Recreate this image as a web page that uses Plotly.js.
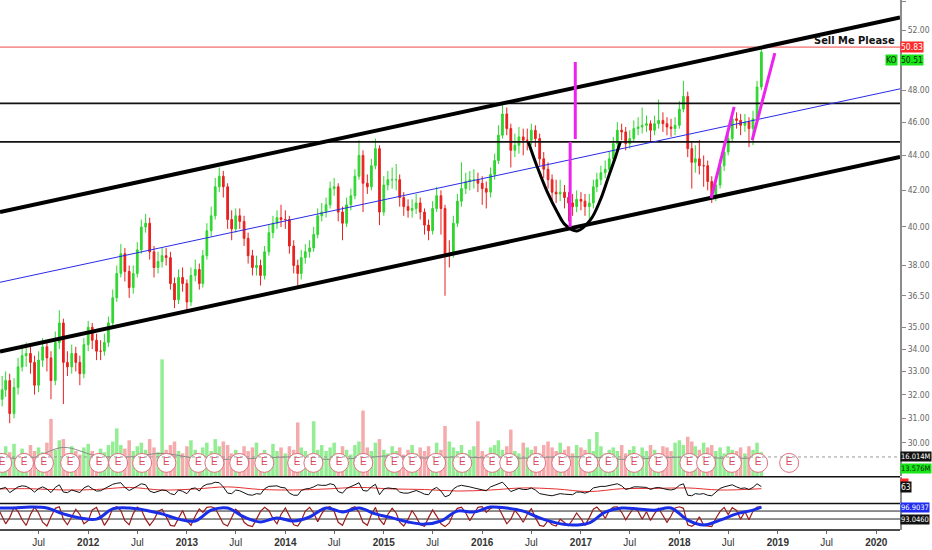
<!DOCTYPE html>
<html><head><meta charset="utf-8">
<script src="https://cdn.plot.ly/plotly-3.0.1.min.js"></script>
<style>html,body{margin:0;padding:0;background:#fff}#chart{width:932px;height:550px}</style>
</head><body><div id="chart"></div>
<script>
// ---------- price data (semi-monthly bars) ----------
const dates = [
"2011-02-01","2011-02-16","2011-03-01","2011-03-16","2011-04-01","2011-04-16","2011-05-01","2011-05-16","2011-06-01","2011-06-16","2011-07-01","2011-07-16","2011-08-01","2011-08-16","2011-09-01","2011-09-16","2011-10-01","2011-10-16","2011-11-01","2011-11-16","2011-12-01","2011-12-16",
"2012-01-01","2012-01-16","2012-02-01","2012-02-16","2012-03-01","2012-03-16","2012-04-01","2012-04-16","2012-05-01","2012-05-16","2012-06-01","2012-06-16","2012-07-01","2012-07-16","2012-08-01","2012-08-16","2012-09-01","2012-09-16","2012-10-01","2012-10-16","2012-11-01","2012-11-16","2012-12-01","2012-12-16",
"2013-01-01","2013-01-16","2013-02-01","2013-02-16","2013-03-01","2013-03-16","2013-04-01","2013-04-16","2013-05-01","2013-05-16","2013-06-01","2013-06-16","2013-07-01","2013-07-16","2013-08-01","2013-08-16","2013-09-01","2013-09-16","2013-10-01","2013-10-16","2013-11-01","2013-11-16","2013-12-01","2013-12-16",
"2014-01-01","2014-01-16","2014-02-01","2014-02-16","2014-03-01","2014-03-16","2014-04-01","2014-04-16","2014-05-01","2014-05-16","2014-06-01","2014-06-16","2014-07-01","2014-07-16","2014-08-01","2014-08-16","2014-09-01","2014-09-16","2014-10-01","2014-10-16","2014-11-01","2014-11-16","2014-12-01","2014-12-16",
"2015-01-01","2015-01-16","2015-02-01","2015-02-16","2015-03-01","2015-03-16","2015-04-01","2015-04-16","2015-05-01","2015-05-16","2015-06-01","2015-06-16","2015-07-01","2015-07-16","2015-08-01","2015-08-16","2015-09-01","2015-09-16","2015-10-01","2015-10-16","2015-11-01","2015-11-16","2015-12-01","2015-12-16",
"2016-01-01","2016-01-16","2016-02-01","2016-02-16","2016-03-01","2016-03-16","2016-04-01","2016-04-16","2016-05-01","2016-05-16","2016-06-01","2016-06-16","2016-07-01","2016-07-16","2016-08-01","2016-08-16","2016-09-01","2016-09-16","2016-10-01","2016-10-16","2016-11-01","2016-11-16","2016-12-01","2016-12-16",
"2017-01-01","2017-01-16","2017-02-01","2017-02-16","2017-03-01","2017-03-16","2017-04-01","2017-04-16","2017-05-01","2017-05-16","2017-06-01","2017-06-16","2017-07-01","2017-07-16","2017-08-01","2017-08-16","2017-09-01","2017-09-16","2017-10-01","2017-10-16","2017-11-01","2017-11-16","2017-12-01","2017-12-16",
"2018-01-01","2018-01-16","2018-02-01","2018-02-16","2018-03-01","2018-03-16","2018-04-01","2018-04-16","2018-05-01","2018-05-16","2018-06-01","2018-06-16","2018-07-01","2018-07-16","2018-08-01","2018-08-16","2018-09-01","2018-09-16","2018-10-01","2018-10-16","2018-11-01"];

const openP = [31.5,31.8,32.2,32.6,31.2,32.3,33.2,33.7,33.8,33.4,
32.4,33.5,34.1,33.6,32.6,34.3,35.2,33.4,33.2,33.8,
33.4,32.9,34.2,35.0,34.4,33.9,33.9,34.3,35.2,36.4,
37.6,38.6,37.7,36.9,37.6,38.8,40.0,40.2,38.7,37.9,
38.2,38.5,38.4,37.1,36.3,37.4,37.1,36.2,37.5,37.8,
37.1,38.5,39.8,40.6,42.2,42.8,42.2,40.4,39.9,40.6,
40.3,39.4,38.5,37.9,38.0,37.5,38.7,39.7,40.2,40.5,
40.4,40.4,39.0,38.0,37.6,38.4,38.7,38.9,39.6,40.6,
40.8,41.2,42.1,42.2,40.8,40.2,41.2,41.7,42.8,44.0,
42.4,42.2,43.4,44.4,40.8,42.3,42.6,42.6,42.6,41.6,
41.1,40.9,41.0,41.3,40.8,40.1,39.8,41.0,41.7,41.0,
38.6,38.6,40.2,41.4,42.1,42.5,42.6,42.6,42.4,42.1,
41.9,42.9,43.7,45.2,46.5,45.6,44.3,44.6,45.1,44.9,
44.9,45.5,45.0,43.8,43.2,42.6,41.9,41.8,41.9,41.6,
41.3,41.1,41.5,41.4,41.1,41.3,42.2,42.6,43.0,43.2,
43.8,44.7,45.5,45.4,44.7,45.0,45.6,45.7,45.8,45.9,
45.5,45.9,46.1,45.9,45.7,45.6,45.8,46.8,47.6,44.4,
43.6,43.8,43.4,43.4,42.5,41.7,42.3,43.4,44.2,45.0,
46.2,46.1,45.8,46.0,45.6,46.2,48.2];

const highP = [32.3,32.8,33.0,32.9,32.7,33.6,34.2,34.3,34.1,33.7,
33.9,34.5,34.4,33.9,34.8,35.8,35.4,33.9,34.2,34.1,
33.7,34.5,35.3,35.2,34.7,34.4,34.7,35.5,36.8,38.0,
39.1,38.9,38.0,38.0,39.2,40.4,40.7,40.5,39.0,38.7,
38.9,38.9,38.7,37.4,37.8,37.9,37.3,37.9,38.3,38.1,
38.8,40.2,41.1,42.7,43.3,43.1,42.4,40.9,41.0,41.0,
40.6,39.7,38.8,38.5,38.3,39.0,40.1,40.6,40.9,41.2,
40.9,40.6,39.3,38.3,38.8,39.1,39.3,40.0,41.0,41.3,
41.6,42.5,42.7,42.4,41.1,41.6,42.1,43.2,44.9,44.3,
42.9,43.8,45.0,44.6,42.8,43.1,43.3,43.5,42.9,41.9,
41.5,41.5,41.8,41.6,41.0,40.4,41.4,42.2,42.0,41.2,
39.3,40.6,41.8,43.6,43.0,43.1,43.2,43.0,42.8,42.5,
43.3,44.1,45.8,47.1,46.9,45.9,45.3,45.7,45.6,45.6,
45.9,45.8,45.3,44.2,43.6,42.9,42.6,42.6,42.3,41.9,
41.8,42.0,41.9,41.8,41.8,42.6,43.0,43.4,43.7,44.2,
45.1,46.0,45.9,45.7,45.5,46.1,46.3,46.9,46.4,46.1,
46.4,47.4,46.6,46.3,46.2,46.3,47.3,48.6,47.9,44.8,
44.6,44.9,44.0,43.7,42.8,42.7,43.8,44.6,45.4,46.6,
46.6,46.5,46.5,46.3,46.7,48.6,50.8];

const lowP = [31.0,31.5,31.9,30.8,31.0,32.0,33.0,33.2,32.9,32.0,
32.1,33.2,33.0,31.8,32.4,34.0,31.6,32.8,32.9,33.0,
32.4,32.7,33.9,34.0,33.5,33.5,33.7,34.1,35.0,36.2,
37.4,37.2,36.4,36.6,37.4,38.6,39.7,38.3,37.4,37.6,
37.9,38.0,36.8,35.9,36.1,36.7,35.7,36.0,37.2,36.8,
36.9,38.3,39.5,40.4,41.9,41.6,39.9,39.3,39.7,39.9,
39.0,38.1,37.5,37.5,37.0,37.3,38.5,39.4,39.9,40.0,
39.9,38.6,37.6,37.0,37.3,38.1,38.4,38.7,39.4,40.3,
40.5,41.0,41.7,40.3,39.3,40.0,40.9,41.5,42.6,40.8,
41.8,42.0,43.2,40.1,40.6,42.0,42.1,42.0,41.1,40.6,
40.5,40.5,40.7,40.4,39.6,39.3,39.6,40.8,39.6,36.5,
37.9,38.4,40.0,41.1,41.8,42.0,42.1,41.9,41.2,41.0,
41.6,42.6,43.5,45.0,45.2,43.3,43.9,44.1,44.0,44.3,
44.6,44.5,43.4,42.7,42.1,41.4,41.3,41.4,41.0,40.3,
40.6,40.8,40.9,40.6,40.4,41.0,41.9,42.3,42.7,42.9,
43.5,44.5,44.9,44.3,44.4,44.8,45.2,45.3,45.4,44.8,
45.2,45.6,45.4,45.2,45.1,45.2,45.6,46.6,43.9,42.1,
43.0,42.9,42.2,42.0,41.3,41.4,42.1,43.1,44.0,44.8,
45.6,45.2,45.4,44.5,44.6,46.0,48.0];

const closeP = [31.8,32.2,32.6,31.2,32.3,33.2,33.7,33.8,33.4,32.4,
33.5,34.1,33.6,32.6,34.3,35.2,33.4,33.2,33.8,33.4,
32.9,34.2,35.0,34.4,33.9,33.9,34.3,35.2,36.4,37.6,
38.6,37.7,36.9,37.6,38.8,40.0,40.2,38.7,37.9,38.2,
38.5,38.4,37.1,36.3,37.4,37.1,36.2,37.5,37.8,37.1,
38.5,39.8,40.6,42.2,42.8,42.2,40.4,39.9,40.6,40.3,
39.4,38.5,37.9,38.0,37.5,38.7,39.7,40.2,40.5,40.4,
40.4,39.0,38.0,37.6,38.4,38.7,38.9,39.6,40.6,40.8,
41.2,42.1,42.2,40.8,40.2,41.2,41.7,42.8,44.0,42.4,
42.2,43.4,44.4,40.8,42.3,42.6,42.6,42.6,41.6,41.1,
40.9,41.0,41.3,40.8,40.1,39.8,41.0,41.7,41.0,38.6,
38.6,40.2,41.4,42.1,42.5,42.6,42.6,42.4,42.1,41.9,
42.9,43.7,45.2,46.5,45.6,44.3,44.6,45.1,44.9,44.9,
45.5,45.0,43.8,43.2,42.6,41.9,41.8,41.9,41.6,41.3,
41.1,41.5,41.4,41.1,41.3,42.2,42.6,43.0,43.2,43.8,
44.7,45.5,45.4,44.7,45.0,45.6,45.7,45.8,45.9,45.5,
45.9,46.1,45.9,45.7,45.6,45.8,46.8,47.6,44.4,43.6,
43.8,43.4,43.4,42.5,41.7,42.3,43.4,44.2,45.0,46.2,
46.1,45.8,46.0,45.6,46.2,48.2,50.5];

// volume, millions
const volume = [22,18,25,20,27,17,23,19,26,21,
24,20,28,48,22,30,31,19,25,21,
18,24,27,21,17,23,20,26,29,40,
26,23,30,21,25,28,22,31,24,20,
98,22,26,29,21,19,25,30,22,18,
24,28,21,31,25,29,26,19,22,18,
25,21,24,28,19,22,18,27,21,24,
19,25,22,45,24,21,18,46,22,26,
21,24,28,19,25,22,18,26,29,55,
24,21,28,31,22,19,25,21,24,18,
22,26,19,24,21,25,18,28,22,42,
29,24,21,26,19,22,25,46,21,18,
24,26,30,22,25,39,21,19,28,24,
22,25,19,26,29,24,21,28,22,25,
19,26,24,22,31,21,37,25,19,22,
24,21,26,19,22,25,18,24,21,26,
22,19,25,24,21,28,30,26,33,29,
25,22,28,24,26,21,24,19,25,22,
21,24,19,25,22,28,20];

// every 4 months
const coarseDates = ["2011-02-01","2011-06-01","2011-10-01","2012-02-01","2012-06-01","2012-10-01","2013-02-01","2013-06-01","2013-10-01","2014-02-01","2014-06-01","2014-10-01","2015-02-01","2015-06-01","2015-10-01","2016-02-01","2016-06-01","2016-10-01","2017-02-01","2017-06-01","2017-10-01","2018-02-01","2018-06-01","2018-11-01"];
const volumeMA = [16,15,24,17,16,19,15,14,15,16,14,15,17,15,16,15,15,16,16,14,15,16,15,15];

// RSI panel
const rsi = [52,56,60,40,52,62,66,64,55,42,
55,62,54,40,60,70,42,40,50,46,
40,58,66,55,46,47,54,63,72,76,
78,60,48,56,66,74,70,46,40,45,
50,48,36,32,50,45,36,55,58,46,
64,72,74,80,78,62,38,36,50,47,
38,32,30,36,34,55,64,66,66,60,
58,38,30,30,48,54,56,62,70,68,
68,74,70,44,38,56,62,70,78,48,
46,62,72,32,54,58,56,55,42,38,
38,42,48,42,34,32,52,60,46,24,
30,54,64,68,66,62,58,54,50,47,
62,68,76,80,62,44,50,56,52,52,
58,50,36,32,30,28,32,36,34,32,
32,42,42,38,44,58,62,64,64,68,
72,74,66,52,56,62,62,60,60,52,
58,60,55,52,50,54,68,74,30,28,
36,34,36,30,28,42,56,62,66,70,
62,56,58,52,60,74,63];
const rsiMA = [54,55,50,52,60,50,54,62,52,50,54,60,54,52,46,50,58,54,44,55,56,58,50,55];

// oscillator panel
const oscFast = [96.5,94.0,91.5,93.5,96.8,95.5,92.8,91.0,94.5,96.9,
95.0,92.0,90.8,93.8,96.5,97.0,93.0,91.2,94.0,96.2,
94.5,91.5,92.5,96.0,96.8,93.5,91.0,93.0,96.5,97.0,
95.8,92.5,91.2,94.8,96.9,96.0,93.0,91.0,92.8,95.5,
96.2,93.8,91.0,90.8,93.5,95.8,92.5,91.0,94.0,96.3,
95.2,96.8,97.0,96.5,94.0,91.5,90.8,93.5,96.2,95.0,
92.0,91.0,90.6,93.0,95.5,96.8,95.8,93.2,91.5,94.5,
96.6,94.0,91.2,90.8,92.5,95.6,96.8,95.0,92.2,94.8,
96.7,97.0,95.5,92.0,91.0,94.0,96.5,97.0,95.2,92.0,
91.0,94.5,96.8,93.0,91.2,94.5,96.5,95.0,92.0,90.8,
93.0,95.8,93.8,91.2,90.7,93.5,96.0,94.0,91.5,90.6,
91.8,94.8,96.5,96.9,95.0,92.5,94.5,96.8,97.0,95.2,
96.5,97.0,96.8,94.2,91.5,93.0,95.8,94.2,92.0,94.6,
96.4,93.5,91.0,90.7,92.5,91.2,90.8,93.0,92.0,90.9,
92.8,95.0,93.2,91.0,93.5,96.2,96.9,95.5,93.2,95.8,
96.9,97.0,95.2,92.8,94.8,96.7,95.5,93.0,95.4,92.6,
94.8,96.5,94.2,92.0,94.0,96.6,97.0,96.5,91.2,90.7,
91.5,93.8,91.0,90.8,90.6,93.2,95.5,96.8,94.5,96.7,
95.8,93.0,95.5,92.8,95.6,96.9,97.0];
const slowDates = ["2011-02-01","2011-04-01","2011-06-01","2011-08-01","2011-10-01","2011-12-01","2012-02-01","2012-04-01","2012-06-01","2012-08-01","2012-10-01","2012-12-01","2013-02-01","2013-04-01","2013-06-01","2013-08-01","2013-10-01","2013-12-01","2014-02-01","2014-04-01","2014-06-01","2014-08-01","2014-10-01","2014-12-01","2015-02-01","2015-04-01","2015-06-01","2015-08-01","2015-10-01","2015-12-01","2016-02-01","2016-04-01","2016-06-01","2016-08-01","2016-10-01","2016-12-01","2017-02-01","2017-04-01","2017-06-01","2017-08-01","2017-10-01","2017-12-01","2018-02-01","2018-04-01","2018-06-01","2018-08-01","2018-10-01","2018-11-01"];
const oscSlow = [96.6,96.6,96.9,96.6,94.7,93.4,93.0,96.3,96.6,95.9,94.7,93.0,92.4,95.9,96.6,93.7,92.1,93.4,92.4,93.7,96.6,95.3,96.6,94.7,93.4,92.1,91.4,92.4,95.6,95.3,96.9,96.6,95.6,93.4,91.8,91.1,91.8,95.3,96.6,96.3,95.9,96.6,92.7,91.1,92.7,94.7,95.9,96.9];
const oscLevels = [95.62, 93.046];

// earnings markers
const earningsDates = ["2011-02-16","2011-05-08","2011-07-21","2011-10-26","2012-02-10","2012-04-21","2012-07-19","2012-10-17","2013-02-12","2013-04-13","2013-07-14","2013-10-15","2014-02-14","2014-04-15","2014-07-19","2014-10-17","2015-02-09","2015-04-16","2015-07-14","2015-10-19","2016-02-07","2016-04-10","2016-07-19","2016-10-20","2017-01-29","2017-04-13","2017-07-17","2017-10-15","2018-02-07","2018-04-10","2018-07-15","2018-10-20","2019-02-12"];
const earningsLevel = 11;

// drawings
const fullSpan = ["2011-02-08","2020-03-29"];
const upperChannel = [40.81, 52.87];
const lowerChannel = [33.88, 43.91];
const midTrend = [37.16, 48.08];
const resistance1 = 47.16, resistance2 = 44.80, alertLevel = 50.83, lastPrice = 50.51;
const cupDates = ["2016-06-20","2016-07-23","2016-08-29","2016-10-05","2016-11-04","2016-12-18","2017-02-05","2017-03-14","2017-04-13","2017-05-09","2017-05-27"];
const cupPrices = [44.80,43.33,41.91,40.81,40.11,39.79,40.38,41.47,42.76,43.91,44.80];
const mag1Dates = ["2016-12-11","2016-12-11"], mag1Prices = [49.83, 44.97];
const mag2Dates = ["2016-11-22","2016-11-22"], mag2Prices = [44.80, 40.00];
const mag3Dates = ["2018-04-29","2018-07-23"], mag3Prices = [41.57, 46.94];
const mag4Dates = ["2018-09-28","2018-12-21"], mag4Prices = [44.91, 50.43];
const noteText = "Sell Me Please", notePrice = 51.31;

const priceTicks = [30,31,32,33,34,35,36.5,38,40,42,44,46,48,52,54];
const xTickDates = ["2011-07-01","2012-01-01","2012-07-01","2013-01-01","2013-07-01","2014-01-01","2014-07-01","2015-01-01","2015-07-01","2016-01-01","2016-07-01","2017-01-01","2017-07-01","2018-01-01","2018-07-01","2019-01-01","2019-07-01","2020-01-01"];
const xTickText = ["Jul","<b>2012</b>","Jul","<b>2013</b>","Jul","<b>2014</b>","Jul","<b>2015</b>","Jul","<b>2016</b>","Jul","<b>2017</b>","Jul","<b>2018</b>","Jul","<b>2019</b>","Jul","<b>2020</b>"];

const volLast = 13.576, volAvgLabel = 16.014, rsiLast = 63, oscSlowLast = 96.9037, oscLow = 93.0460, oscFastLabel = 94.7214;

// ---------- traces ----------
const GREEN = '#2fd62f', RED = '#e8211f';
const volColors = closeP.map((c,i)=> c>=openP[i] ? 'rgba(120,232,120,0.8)' : 'rgba(242,150,150,0.8)');
const traces = [];
traces.push({type:'bar', x:dates, y:volume, xaxis:'x', yaxis:'y4', marker:{color:volColors, line:{width:0}}, width:13*86400000, hoverinfo:'skip'});
traces.push({type:'scatter', mode:'lines', x:coarseDates, y:volumeMA, xaxis:'x', yaxis:'y4', line:{color:'#8a8a8a', width:1, shape:'spline'}});
traces.push({type:'scatter', mode:'markers+text', x:earningsDates, y:earningsDates.map(()=>earningsLevel), xaxis:'x', yaxis:'y4',
  text:earningsDates.map(()=>'E'), textposition:'middle center', textfont:{color:'#d9465e', size:10, family:'Liberation Sans'},
  marker:{symbol:'circle', size:19, color:'#ffffff', line:{color:'#e07080', width:1}}});

const line = (x,y,color,width,extra)=>Object.assign({type:'scatter', mode:'lines', x:x, y:y, xaxis:'x', yaxis:'y', line:{color:color, width:width}, hoverinfo:'skip'}, extra||{});
traces.push(line(fullSpan,[alertLevel,alertLevel],'#f04848',1));
traces.push(line(fullSpan,[resistance1,resistance1],'#111',1.6));
traces.push(line(fullSpan,[resistance2,resistance2],'#111',1.6));
traces.push(line(fullSpan,midTrend,'#2a2ae8',1));

traces.push({type:'candlestick', x:dates, open:openP, high:highP, low:lowP, close:closeP, xaxis:'x', yaxis:'y',
  increasing:{line:{color:GREEN, width:1}, fillcolor:GREEN}, decreasing:{line:{color:RED, width:1}, fillcolor:RED}, whiskerwidth:0, hoverinfo:'skip'});

traces.push(line(fullSpan,upperChannel,'#000',4));
traces.push(line(fullSpan,lowerChannel,'#000',4));
traces.push(line(cupDates,cupPrices,'#000',3,{line:{color:'#000', width:3, shape:'spline', smoothing:1}}));
traces.push(line(mag1Dates,mag1Prices,'#ee22ee',3));
traces.push(line(mag2Dates,mag2Prices,'#ee22ee',3));
traces.push(line(mag3Dates,mag3Prices,'#ee22ee',3));
traces.push(line(mag4Dates,mag4Prices,'#ee22ee',3));

traces.push({type:'scatter', mode:'lines', x:coarseDates, y:rsiMA, xaxis:'x', yaxis:'y2', line:{color:'#e53030', width:1, shape:'spline'}});
traces.push({type:'scatter', mode:'lines', x:dates, y:rsi, xaxis:'x', yaxis:'y2', line:{color:'#111', width:1}});

traces.push({type:'scatter', mode:'lines', x:fullSpan, y:[oscLevels[0],oscLevels[0]], xaxis:'x', yaxis:'y3', line:{color:'#222', width:1}});
traces.push({type:'scatter', mode:'lines', x:fullSpan, y:[oscLevels[1],oscLevels[1]], xaxis:'x', yaxis:'y3', line:{color:'#222', width:1}});
traces.push({type:'scatter', mode:'lines', x:dates, y:oscFast, xaxis:'x', yaxis:'y3', line:{color:'#9b1c1c', width:1.2}});
traces.push({type:'scatter', mode:'lines', x:slowDates, y:oscSlow, xaxis:'x', yaxis:'y3', line:{color:'#1a2ee6', width:3, shape:'spline'}});

// ---------- layout ----------
const FONT = 'Liberation Sans Narrow, DejaVu Sans Condensed, Liberation Sans, sans-serif';
const axisCommon = {side:'right', anchor:'x', showgrid:false, zeroline:false, showline:true, linecolor:'#8c8c8c', linewidth:2, fixedrange:true};
const L10 = Math.log10;
const tag = (yref, y, text, bg, fg, opts)=>Object.assign({xref:'paper', x:1, xanchor:'left', yref:yref, y:y, text:text, showarrow:false,
  bgcolor:bg, font:{color:fg, size:8, family:FONT}, borderpad:0, xshift:0}, opts||{});

const layout = {
  width:932, height:550, margin:{l:0, r:32, t:0, b:20},
  paper_bgcolor:'#fff', plot_bgcolor:'#fff', showlegend:false, hovermode:false,
  font:{family:FONT, size:9, color:'#444'},
  xaxis:{type:'date', range:fullSpan, anchor:'y3', showgrid:false, zeroline:false, showline:false,
    tickvals:xTickDates, ticktext:xTickText, ticks:'outside', ticklen:3, tickcolor:'#666',
    tickfont:{size:10, color:'#333', family:'Liberation Sans, sans-serif'}, rangeslider:{visible:false}, fixedrange:true},
  yaxis:Object.assign({}, axisCommon, {domain:[0.1019,1], type:'log', range:[L10(28.71), L10(54.12)],
    tickvals:priceTicks, ticktext:priceTicks.map(v=>v.toFixed(2)), ticks:'outside', ticklen:4, tickcolor:'#888',
    tickfont:{size:8.5, color:'#666', family:FONT}}),
  yaxis2:Object.assign({}, axisCommon, {domain:[0.0509,0.1000], range:[0,100], showticklabels:false}),
  yaxis3:Object.assign({}, axisCommon, {domain:[0,0.0491], range:[89.5,97.9], showticklabels:false}),
  yaxis4:{overlaying:'y', side:'right', range:[0,400], visible:false, fixedrange:true},
  shapes:[
    {type:'line', xref:'paper', yref:'y2 domain', x0:0, x1:1, y0:1.01, y1:1.01, line:{color:'#111', width:1.5}},
    {type:'line', xref:'paper', yref:'y3 domain', x0:0, x1:1, y0:1.02, y1:1.02, line:{color:'#111', width:1.5}},
    {type:'line', xref:'paper', yref:'y3 domain', x0:0, x1:1, y0:0, y1:0, line:{color:'#111', width:1.5}},
    {type:'line', xref:'paper', yref:'y4', x0:0, x1:1.035, y0:volAvgLabel, y1:volAvgLabel, line:{color:'#9a9a9a', width:1, dash:'dot'}}
  ],
  annotations:[
    {xref:'paper', x:0.9967, xanchor:'right', yref:'y', y:L10(notePrice), text:'<b>'+noteText+'</b>', showarrow:false,
      font:{size:11, color:'#111', family:FONT}},
    tag('y', L10(alertLevel), alertLevel.toFixed(2), '#ff2a2a', '#ffffff', {font:{color:'#fff', size:8.5, family:FONT}}),
    tag('y', L10(lastPrice), lastPrice.toFixed(2), '#19e619', '#0a2a0a', {yshift:-8, font:{color:'#0a2a0a', size:8.5, family:FONT}}),
    tag('y', L10(lastPrice), 'KO', '#19e619', '#0a2a0a', {xanchor:'right', xshift:-2, yshift:-8, font:{color:'#0a2a0a', size:8.5, family:FONT}}),
    tag('y4', volAvgLabel, volAvgLabel.toFixed(3)+'M', '#111111', '#ffffff', {font:{color:'#fff', size:7.5, family:FONT}}),
    tag('y4', volLast, volLast.toFixed(3)+'M', '#19e619', '#0a2a0a', {yshift:-9, font:{color:'#0a2a0a', size:7.5, family:FONT}}),
    tag('y2', 100, '&nbsp;&nbsp;&nbsp;&nbsp;&nbsp;&nbsp;&nbsp;&nbsp;', '#ff2a2a', '#ff2a2a', {yanchor:'top', yshift:-1, font:{size:3, color:'#ff2a2a'}}),
    tag('y2', rsiLast, String(rsiLast), '#111111', '#ffffff', {font:{color:'#fff', size:8.5, family:FONT}}),
    tag('y3', oscSlowLast, oscSlowLast.toFixed(4), '#1f2cf0', '#ffffff', {font:{color:'#fff', size:7.5, family:FONT}}),
    tag('y3', oscLow, oscLow.toFixed(4), '#111111', '#ffffff', {font:{color:'#fff', size:7.5, family:FONT}}),
    tag('y3', 89.3, oscFastLabel.toFixed(4), '#ff2a2a', '#ffffff', {yanchor:'bottom', yshift:-5, font:{size:5, color:'#ffffff', family:FONT}})
  ]
};
Plotly.newPlot('chart', traces, layout, {displayModeBar:false, staticPlot:true});
</script></body></html>
